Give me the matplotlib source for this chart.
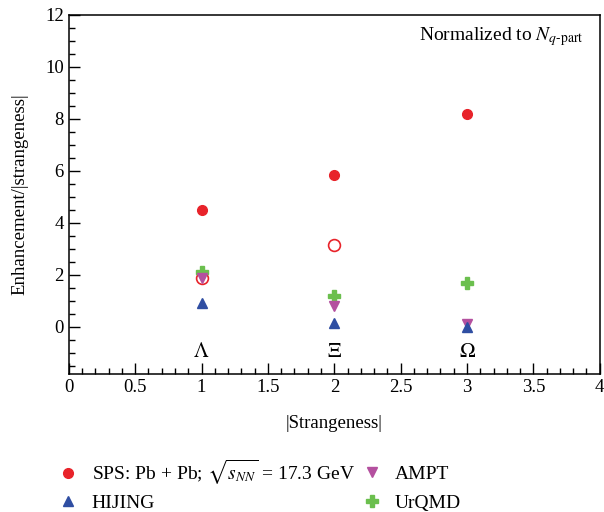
import matplotlib.pyplot as plt
from matplotlib.lines import Line2D
from matplotlib.ticker import MultipleLocator

# data
strangeness = [1, 2, 3]
hadrons = [r"$\Lambda$", r"$\Xi$", r"$\Omega$"]
sps_filled = [4.5, 5.85, 8.2]
sps_open_x = [1, 2]
sps_open = [1.88, 3.15]
hijing = [0.92, 0.15, 0.0]
ampt = [1.9, 0.82, 0.12]
urqmd = [2.1, 1.2, 1.7]

plt.rcParams.update({
    "font.family": "Liberation Serif",
    "mathtext.fontset": "stix",
    "font.size": 13.5,
})

fig = plt.figure(figsize=(6.04, 5.12), dpi=100)
ax = fig.add_axes([0.114, 0.270, 0.879, 0.701])

red = "#e8232a"
blue = "#2f4ea2"
magenta = "#b4509f"
green = "#6bbf4e"

ax.plot(strangeness, sps_filled, "o", color=red, ms=7, ls="none")
ax.plot(sps_open_x, sps_open, "o", mfc="none", mec=red, mew=1.2, ms=8.5, ls="none")
ax.plot(strangeness, urqmd, "P", color=green, ms=8, ls="none")
ax.plot(strangeness, ampt, "v", color=magenta, ms=7.5, ls="none")
ax.plot(strangeness, hijing, "^", color=blue, ms=7.5, ls="none")

for x, lab in zip(strangeness, hadrons):
    ax.text(x, -1.0, lab, ha="center", va="center", fontsize=15)

ax.set_xlim(0, 4)
ax.set_ylim(-1.8, 12)
ax.xaxis.set_major_locator(MultipleLocator(0.5))
ax.xaxis.set_minor_locator(MultipleLocator(0.1))
ax.yaxis.set_major_locator(MultipleLocator(2))
ax.yaxis.set_minor_locator(MultipleLocator(0.5))
ax.tick_params(which="both", direction="in", top=False, right=False, labelsize=13.5)
ax.tick_params(which="major", length=8, width=1)
ax.tick_params(which="minor", length=4, width=1)
ax.set_xticks([0, 0.5, 1, 1.5, 2, 2.5, 3, 3.5, 4])
ax.set_xticklabels(["0", "0.5", "1", "1.5", "2", "2.5", "3", "3.5", "4"])
for s in ax.spines.values():
    s.set_linewidth(1.1)

ax.set_xlabel("|Strangeness|", fontsize=13.5, labelpad=14)
ax.set_ylabel("Enhancement/|strangeness|", fontsize=13.5, labelpad=12)

ax.text(0.97, 0.94, r"Normalized to $N_{q\text{-}\mathrm{part}}$", transform=ax.transAxes,
        ha="right", va="center", fontsize=14)

handles = [
    Line2D([], [], marker="o", color=red, ls="none", ms=7),
    Line2D([], [], marker="^", color=blue, ls="none", ms=7.5),
    Line2D([], [], marker="v", color=magenta, ls="none", ms=7.5),
    Line2D([], [], marker="P", color=green, ls="none", ms=8),
]
labels = [
    r"SPS: Pb + Pb; $\sqrt{s_{NN}}$ = 17.3 GeV",
    "HIJING",
    "AMPT",
    "UrQMD",
]
leg_kw = dict(loc="upper left", frameon=False, fontsize=14, handlelength=1.0,
              handletextpad=0.7)
fig.legend(handles[:2], labels[:2], bbox_to_anchor=(0.068, 0.140), labelspacing=0.4, **leg_kw)
fig.legend(handles[2:], labels[2:], bbox_to_anchor=(0.570, 0.126), labelspacing=0.6, **leg_kw)

fig.savefig("out.png", dpi=100)
